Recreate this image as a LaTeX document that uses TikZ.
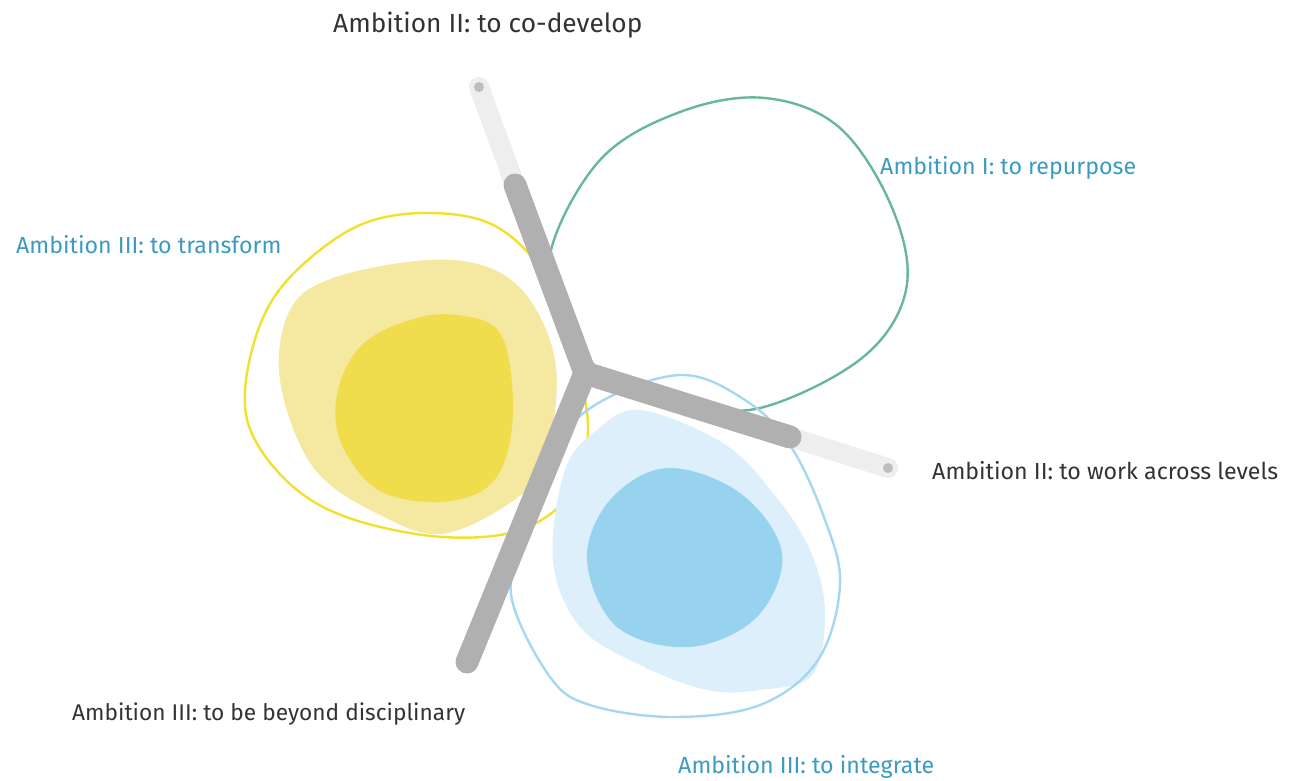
\documentclass[tikz,border=0pt]{standalone}
\usepackage{fontspec}
\setmainfont{Fira Sans}
\usetikzlibrary{calc}
\definecolor{armdark}{HTML}{B0B0B0}
\definecolor{armlight}{HTML}{EEEEEE}
\definecolor{armdot}{HTML}{BDBDBD}
\definecolor{repurposegreen}{HTML}{66B994}
\definecolor{transformline}{HTML}{F2DF2E}
\definecolor{transformlight}{HTML}{F5E8A0}
\definecolor{transformdark}{HTML}{EFDD4B}
\definecolor{integrateline}{HTML}{A5D8F0}
\definecolor{integratelight}{HTML}{DDEFFB}
\definecolor{integratedark}{HTML}{97D3EF}
\definecolor{textblue}{HTML}{3C9AC0}
\definecolor{textdark}{HTML}{333333}

\begin{document}
\begin{tikzpicture}[x=1pt, y=-1pt]
    \tikzstyle{every node} = [font=\fontsize{23.2}{27}\selectfont, inner sep=0pt]
    \tikzstyle{darktext} = [anchor=base west, text=textdark]
    \tikzstyle{bluetext} = [anchor=base west, text=textblue]
    \tikzstyle{outline} = [line width=2.4pt]
    \tikzstyle{blob} = [smooth cycle, tension=0.6]
    \tikzstyle{arm} = [draw=armdark, line width=23pt, line cap=round, line join=round]
    \tikzstyle{armtail} = [draw=armlight, line width=20pt, line cap=round]
    \tikzstyle{tipdot} = [circle, fill=armdot, minimum size=10pt]

    \useasboundingbox (0,0) rectangle (1303,780);

    % blobs
    \draw[outline, draw=repurposegreen] plot[blob] coordinates {(765,98) (840,128) (893,210) (906,290) (862,358) (760,408) (680,402) (610,380) (570,325) (550,255) (600,160) (680,112)};

    \fill[transformlight] plot[blob] coordinates {(427,260) (490,268) (530,300) (555,360) (552,430) (530,487) (447,533) (380,515) (313,467) (280,380) (290,310) (333,278)};
    \fill[transformdark] plot[blob] coordinates {(457,315) (500,333) (513,400) (505,460) (480,492) (430,502) (375,488) (340,440) (338,390) (362,345) (410,320)};
    \draw[outline, draw=transformline] plot[blob] coordinates {(430,213) (497,227) (548,280) (575,360) (588,430) (572,492) (520,530) (443,537) (355,520) (297,490) (255,440) (245,390) (262,320) (297,270) (360,225)};

    \fill[integratelight] plot[blob] coordinates {(640,410) (723,443) (773,493) (810,550) (825,612) (812,675) (760,690) (707,690) (640,665) (580,627) (553,560) (565,470) (597,430)};
    \fill[integratedark] plot[blob] coordinates {(667,468) (740,493) (782,553) (757,617) (690,647) (617,627) (587,560) (610,500)};
    \draw[outline, draw=integrateline] plot[blob] coordinates {(680,375) (745,400) (790,445) (825,520) (840,585) (818,660) (760,705) (673,717) (590,705) (550,677) (512,600) (522,545) (552,455) (595,405)};

    % arms
    \coordinate (hub) at (585,373);
    \coordinate (codevtip) at (479,87);
    \coordinate (codevend) at (515,185);
    \coordinate (levelstip) at (888,468);
    \coordinate (levelsend) at (790,437);
    \coordinate (beyondend) at (467,662);

    \draw[armtail] (codevtip) -- (codevend);
    \draw[armtail] (levelstip) -- (levelsend);
    \draw[arm] (codevend) -- (hub) -- (levelsend);
    \draw[arm] (hub) -- (beyondend);
    \node[tipdot] (codevdot) at (codevtip) {};
    \node[tipdot] (levelsdot) at (levelstip) {};

    % labels
    \node[darktext, font=\fontsize{26.3}{30}\selectfont] (codevelop) at (333,32) {Ambition II: to co-develop};
    \node[bluetext] (repurpose) at (880,174) {Ambition I: to repurpose};
    \node[bluetext] (transform) at (16,253) {Ambition III: to transform};
    \node[darktext] (levels) at (932,479) {Ambition II: to work across levels};
    \node[darktext, font=\fontsize{22.7}{27}\selectfont] (beyond) at (72,720) {Ambition III: to be beyond disciplinary};
    \node[bluetext] (integrate) at (678,773) {Ambition III: to integrate};
\end{tikzpicture}
\end{document}
